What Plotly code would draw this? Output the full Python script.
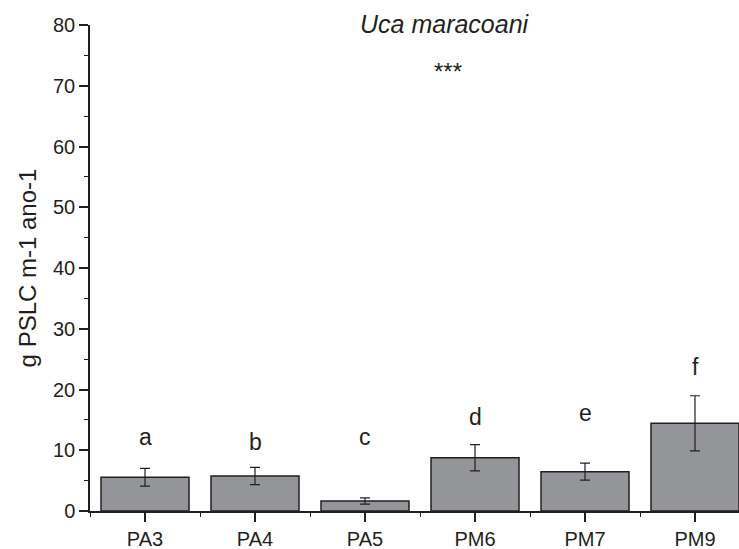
import plotly.graph_objects as go

categories = ["PA3", "PA4", "PA5", "PM6", "PM7", "PM9"]
values = [5.55, 5.76, 1.65, 8.77, 6.47, 14.44]
errors = [1.46, 1.43, 0.52, 2.17, 1.40, 4.53]
letters = ["a", "b", "c", "d", "e", "f"]
letter_y = [12.2, 11.4, 12.2, 15.5, 16.1, 23.7]

ink = "#231f20"
fam = "Liberation Sans, Arial"
xpos = list(range(len(categories)))

fig = go.Figure()
fig.add_trace(go.Bar(
    x=xpos, y=values, width=0.8,
    marker=dict(color="#939598", line=dict(color=ink, width=1.5)),
    error_y=dict(type="data", array=errors, visible=True, color=ink, thickness=1.2, width=5),
    showlegend=False,
))

for x, t, ly in zip(xpos, letters, letter_y):
    fig.add_annotation(x=x, y=ly, text=t, showarrow=False, xref="x", yref="y",
                       font=dict(family=fam, size=23, color=ink))

fig.add_annotation(x=2.73, y=1.0, xref="x", yref="paper", text="<i>Uca maracoani</i>", showarrow=False,
                   font=dict(family=fam, size=25, color=ink), yanchor="middle", yshift=1)
fig.add_annotation(x=2.75, y=72.3, xref="x", yref="y", text="***", showarrow=False,
                   font=dict(family=fam, size=24, color=ink))

fig.update_layout(
    width=739, height=549,
    margin=dict(l=90, r=0, t=25, b=38),
    plot_bgcolor="white", paper_bgcolor="white",
    font=dict(family=fam, size=20, color=ink),
    bargap=0.2,
)
fig.update_xaxes(
    range=[-0.5, 5.4], tickvals=xpos, ticktext=categories,
    showline=True, linecolor=ink, linewidth=1.5, mirror=False,
    ticks="outside", ticklen=9, tickwidth=1.5, tickcolor=ink,
    minor=dict(tick0=-0.5, dtick=1, ticks="outside", ticklen=4, tickwidth=1.2, tickcolor=ink),
    showgrid=False, zeroline=False,
    tickfont=dict(size=20),
)
fig.update_yaxes(
    range=[0, 80], dtick=10, tick0=0,
    showline=True, linecolor=ink, linewidth=1.5,
    ticks="outside", ticklen=9, tickwidth=1.5, tickcolor=ink,
    minor=dict(dtick=5, ticks="outside", ticklen=4, tickwidth=1.2, tickcolor=ink),
    showgrid=False, zeroline=False,
    title=dict(text="g PSLC m-1 ano-1", font=dict(size=24), standoff=10),
    tickfont=dict(size=20),
)

fig.write_html("out.html")
